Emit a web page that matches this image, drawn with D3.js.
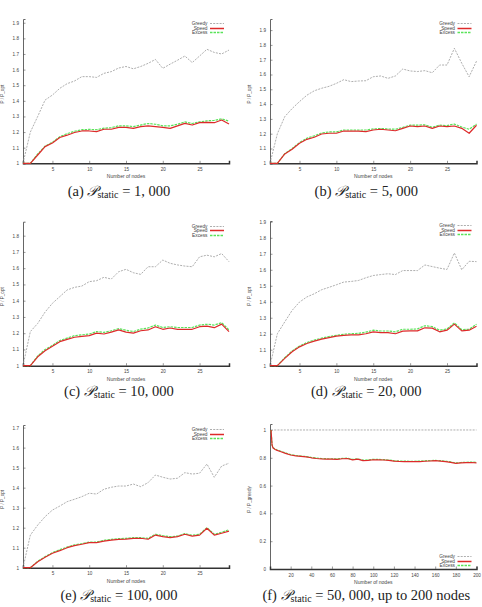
<!DOCTYPE html>
<html><head><meta charset="utf-8">
<script src="https://cdn.jsdelivr.net/npm/d3@7"></script>
<style>body{margin:0;background:#fff}svg{display:block}</style>
</head><body>
<svg id="c" width="482" height="607"></svg>
<script>
// ---- data ----
const nodes = [1,2,3,4,5,6,7,8,9,10,11,12,13,14,15,16,17,18,19,20,21,22,23,24,25,26,27,28,29];
const xTicks = [5,10,15,20,25];
const seriesNames = ["Greedy","Speed","Excess"];

const greedyA = [1.0,1.2,1.3,1.405,1.437,1.48,1.51,1.527,1.555,1.555,1.55,1.576,1.587,1.61,1.62,1.605,1.62,1.64,1.665,1.608,1.635,1.66,1.687,1.645,1.687,1.73,1.71,1.70,1.725];
const speedA  = [1.0,1.0,1.053,1.107,1.13,1.165,1.18,1.197,1.207,1.207,1.203,1.218,1.218,1.23,1.23,1.224,1.235,1.24,1.235,1.23,1.224,1.24,1.256,1.245,1.26,1.262,1.26,1.277,1.252];
const excessA = [1.0,1.0,1.06,1.11,1.135,1.17,1.19,1.205,1.215,1.217,1.215,1.225,1.228,1.24,1.24,1.235,1.245,1.255,1.25,1.24,1.24,1.25,1.265,1.255,1.265,1.272,1.275,1.285,1.27];

const greedyB = [1.0,1.2,1.315,1.37,1.417,1.46,1.49,1.507,1.52,1.54,1.565,1.552,1.556,1.558,1.585,1.59,1.574,1.59,1.637,1.624,1.62,1.626,1.612,1.664,1.664,1.777,1.676,1.585,1.69];
const speedB  = [1.0,1.0,1.063,1.095,1.135,1.162,1.176,1.198,1.203,1.203,1.218,1.218,1.218,1.214,1.225,1.23,1.225,1.22,1.236,1.252,1.248,1.252,1.236,1.252,1.248,1.252,1.236,1.203,1.257];
const excessB = [1.0,1.0,1.065,1.1,1.14,1.17,1.185,1.205,1.212,1.212,1.225,1.225,1.225,1.225,1.232,1.235,1.232,1.23,1.243,1.258,1.258,1.26,1.243,1.258,1.255,1.265,1.245,1.23,1.265];

const greedyC = [1.0,1.21,1.26,1.33,1.384,1.425,1.466,1.482,1.49,1.517,1.523,1.544,1.533,1.578,1.593,1.572,1.562,1.609,1.609,1.65,1.63,1.62,1.613,1.609,1.67,1.68,1.67,1.69,1.64];
const speedC  = [1.0,1.0,1.055,1.092,1.12,1.148,1.162,1.175,1.18,1.185,1.2,1.195,1.207,1.22,1.207,1.2,1.215,1.22,1.24,1.224,1.232,1.224,1.224,1.224,1.24,1.244,1.234,1.256,1.21];
const excessC = [1.0,1.0,1.06,1.1,1.125,1.155,1.17,1.185,1.19,1.195,1.21,1.205,1.215,1.228,1.218,1.21,1.225,1.232,1.25,1.235,1.24,1.235,1.235,1.235,1.25,1.255,1.25,1.265,1.22];

const greedyD = [1.0,1.2,1.274,1.346,1.398,1.43,1.45,1.475,1.49,1.506,1.523,1.527,1.533,1.55,1.564,1.57,1.575,1.57,1.595,1.595,1.595,1.63,1.62,1.61,1.602,1.705,1.6,1.653,1.651];
const speedD  = [1.0,1.0,1.046,1.087,1.118,1.139,1.154,1.166,1.176,1.185,1.19,1.193,1.193,1.2,1.212,1.207,1.207,1.2,1.216,1.218,1.218,1.237,1.235,1.212,1.222,1.26,1.218,1.222,1.247];
const excessD = [1.0,1.0,1.05,1.092,1.123,1.145,1.16,1.172,1.182,1.19,1.197,1.2,1.202,1.21,1.222,1.217,1.217,1.212,1.228,1.228,1.23,1.25,1.245,1.222,1.23,1.268,1.225,1.228,1.26];

const greedyE = [1.0,1.163,1.213,1.255,1.288,1.308,1.33,1.342,1.355,1.372,1.368,1.392,1.402,1.408,1.408,1.418,1.405,1.425,1.463,1.452,1.443,1.447,1.475,1.468,1.472,1.518,1.452,1.508,1.522];
const speedE  = [1.0,1.0,1.03,1.052,1.072,1.085,1.1,1.11,1.117,1.125,1.125,1.133,1.138,1.142,1.143,1.147,1.147,1.142,1.163,1.155,1.15,1.155,1.167,1.158,1.163,1.197,1.163,1.172,1.183];
const excessE = [1.0,1.0,1.032,1.055,1.075,1.09,1.103,1.114,1.12,1.128,1.128,1.137,1.142,1.145,1.147,1.15,1.15,1.147,1.167,1.16,1.155,1.158,1.17,1.162,1.167,1.2,1.167,1.177,1.19];

const nodesF  = [1,2,3,5,7,10,15,20,25,30,35,40,45,50,55,60,65,70,75,80,85,90,95,100,105,110,115,120,125,130,135,140,145,150,155,160,165,170,175,180,185,190,195,200];
const greedyF = [1,1,1,1,1,1,1,1,1,1,1,1,1,1,1,1,1,1,1,1,1,1,1,1,1,1,1,1,1,1,1,1,1,1,1,1,1,1,1,1,1,1,1,1];
const speedF  = [1.0,0.89,0.87,0.86,0.853,0.845,0.832,0.82,0.814,0.81,0.806,0.8,0.795,0.792,0.79,0.79,0.789,0.793,0.795,0.785,0.79,0.78,0.782,0.786,0.785,0.784,0.781,0.776,0.774,0.773,0.772,0.772,0.773,0.775,0.777,0.779,0.776,0.773,0.767,0.76,0.763,0.765,0.766,0.764];
const excessF = [1.0,0.893,0.873,0.863,0.856,0.848,0.835,0.823,0.817,0.812,0.809,0.803,0.798,0.795,0.793,0.793,0.792,0.796,0.797,0.788,0.792,0.783,0.785,0.789,0.788,0.787,0.784,0.779,0.777,0.776,0.775,0.775,0.776,0.778,0.78,0.782,0.779,0.776,0.77,0.763,0.766,0.768,0.769,0.767];
const xTicksF = [20,40,60,80,100,120,140,160,180,200];
const yTicks19 = [1,1.1,1.2,1.3,1.4,1.5,1.6,1.7,1.8,1.9];
const yTicks18 = [1,1.1,1.2,1.3,1.4,1.5,1.6,1.7,1.8];
const yTicks17 = [1,1.1,1.2,1.3,1.4,1.5,1.6,1.7];
const yTicksF  = [0,0.2,0.4,0.6,0.8,1];

// ---- layout / styles ----
const L = {l:23, r:229}, R = {l:270, r:476.5};
const panels = [
  {tag:"(a)", val:"1, 000",  extra:"", x:nodes, g:greedyA, s:speedA, e:excessA, xd:[1,29], xt:xTicks, yd:[1,1.924], yt:yTicks19, yl:"P / P_opt", col:L, t:19, b:163.3, cap:195.5, leg:"top"},
  {tag:"(b)", val:"5, 000",  extra:"", x:nodes, g:greedyB, s:speedB, e:excessB, xd:[1,29], xt:xTicks, yd:[1,1.975], yt:yTicks19, yl:"P / P_opt", col:R, t:19, b:163.3, cap:195.5, leg:"top"},
  {tag:"(c)", val:"10, 000", extra:"", x:nodes, g:greedyC, s:speedC, e:excessC, xd:[1,29], xt:xTicks, yd:[1,1.886], yt:yTicks18, yl:"P / P_opt", col:L, t:221.7, b:365.7, cap:395.5, leg:"top"},
  {tag:"(d)", val:"20, 000", extra:"", x:nodes, g:greedyD, s:speedD, e:excessD, xd:[1,29], xt:xTicks, yd:[1,1.905], yt:yTicks19, yl:"P / P_opt", col:R, t:221, b:365.7, cap:395.5, leg:"top"},
  {tag:"(e)", val:"100, 000",extra:"", x:nodes, g:greedyE, s:speedE, e:excessE, xd:[1,29], xt:xTicks, yd:[1,1.713], yt:yTicks17, yl:"P / P_opt", col:L, t:425, b:567.7, cap:599.5, leg:"top"},
  {tag:"(f)", val:"50, 000", extra:", up to 200 nodes", x:nodesF, g:greedyF, s:speedF, e:excessF, xd:[0,200], xt:xTicksF, yd:[0,1.043], yt:yTicksF, yl:"P / P_greedy", col:R, t:424, b:569, cap:599.5, leg:"bottom"}
];
const styles = {
  Greedy:{stroke:"#999999", w:0.8, dash:"2,1.2"},
  Excess:{stroke:"#5ae35a", w:1.2, dash:"2.5,1"},
  Speed: {stroke:"#dd2a2a", w:1.2, dash:null}
};
const font = "'Liberation Sans', Arial, sans-serif";
const svg = d3.select("#c");

panels.forEach(p => {
  const g = svg.append("g");
  const x = d3.scaleLinear().domain(p.xd).range([p.col.l, p.col.r]);
  const y = d3.scaleLinear().domain(p.yd).range([p.b, p.t]);
  const fmt = v => (Math.round(v*10)/10).toString();

  // y axis
  const ya = d3.axisLeft(y).tickValues(p.yt).tickSize(-2.5).tickPadding(4).tickFormat(fmt);
  const yg = g.append("g").attr("transform", `translate(${p.col.l},0)`).call(ya);
  yg.select(".domain").attr("stroke","#555").attr("stroke-width",0.9);
  yg.selectAll(".tick line").attr("stroke","#555").attr("stroke-width",0.6);
  yg.selectAll("text").attr("font-size",4.6).attr("font-family",font).attr("fill","#444");
  // x axis
  const xa = d3.axisBottom(x).tickValues(p.xt).tickSize(-2.5).tickPadding(4.5);
  const xg = g.append("g").attr("transform", `translate(0,${p.b})`).call(xa);
  xg.select(".domain").attr("stroke","#333").attr("stroke-width",1.5);
  xg.selectAll(".tick line").attr("stroke","#555").attr("stroke-width",0.6);
  xg.selectAll("text").attr("font-size",4.6).attr("font-family",font).attr("fill","#444");

  // axis titles
  g.append("text").attr("x",(p.col.l+p.col.r)/2).attr("y",p.b+15)
    .attr("text-anchor","middle").attr("font-size",5).attr("font-family",font).attr("fill","#444")
    .text("Number of nodes");
  const ylx = p.col.l - 19, yly = (p.t+p.b)/2 + 3;
  g.append("text").attr("transform",`translate(${ylx},${yly}) rotate(-90)`)
    .attr("text-anchor","middle").attr("font-size",4.6).attr("font-family",font).attr("fill","#444")
    .text(p.yl);

  // lines
  const data = {Greedy:p.g, Speed:p.s, Excess:p.e};
  ["Greedy","Excess","Speed"].forEach(name => {
    const st = styles[name];
    const line = d3.line().x((d,i)=>x(p.x[i])).y(d=>y(d));
    g.append("path").datum(data[name]).attr("d",line).attr("fill","none")
      .attr("stroke",st.stroke).attr("stroke-width",st.w)
      .attr("stroke-dasharray",st.dash).attr("stroke-linejoin","round");
  });

  // legend
  seriesNames.forEach((name,i) => {
    const st = styles[name];
    const ry = Math.round(p.leg === "top" ? p.t + 3.8 + i*4.8 : p.b - 13.3 + i*4.8) + 0.5;
    g.append("text").attr("x",p.col.r-21.5).attr("y",ry+1.6).attr("text-anchor","end")
      .attr("font-size",4.8).attr("font-family",font).attr("fill","#444").text(name);
    g.append("line").attr("x1",p.col.r-19).attr("x2",p.col.r-5).attr("y1",ry).attr("y2",ry)
      .attr("stroke",st.stroke).attr("stroke-width",name === "Greedy" ? 0.8 : 1.5)
      .attr("stroke-dasharray",st.dash);
  });

  // caption
  const cx = (p.col.l + p.col.r)/2 - 7;
  const t = g.append("text").attr("x",cx).attr("y",p.cap).attr("text-anchor","middle")
    .attr("font-family","'Liberation Serif','DejaVu Serif',serif").attr("font-size",14.5).attr("fill","#222");
  t.append("tspan").text(p.tag + " ");
  t.append("tspan").attr("font-style","italic").text("\u{1D4AB}");
  t.append("tspan").attr("font-size",10).attr("dy",2.5).text("static");
  t.append("tspan").attr("dy",-2.5).text(" = " + p.val + p.extra);
});
</script>
</body></html>
